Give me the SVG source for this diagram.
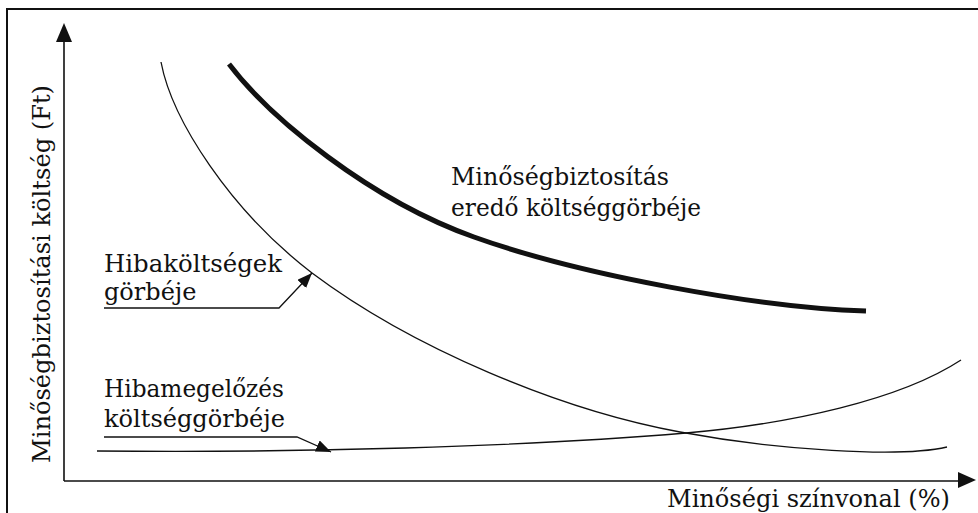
<svg xmlns="http://www.w3.org/2000/svg" width="978" height="513" viewBox="0 0 978 513">
<style>
.t{font-family:"DejaVu Serif","Liberation Serif",serif;font-size:24px;fill:#111}
.thin{fill:none;stroke:#111;stroke-width:1.3}
.ax{fill:none;stroke:#111;stroke-width:1.6}
</style>
<defs>
<marker id="ah" markerWidth="16" markerHeight="12" refX="15" refY="6" orient="auto" markerUnits="userSpaceOnUse">
<path d="M0,0 L15,6 L0,12 Z" fill="#111"/>
</marker>
</defs>
<rect width="978" height="513" fill="#fff"/>
<path d="M7,513 V9 H978" fill="none" stroke="#111" stroke-width="2"/>
<g id="axes">
<path class="ax" d="M64,481 V40 M64,481 H959"/>
<path d="M64,23 L56,42 L72,42 Z" fill="#111"/>
<path d="M976,480 L958,472 L958,488 Z" fill="#111"/>
<text class="t" transform="translate(50,463) rotate(-90)" textLength="378" lengthAdjust="spacingAndGlyphs">Minőségbiztosítási költség (Ft)</text>
<text class="t" x="667" y="507" textLength="283" lengthAdjust="spacingAndGlyphs">Minőségi színvonal (%)</text>
</g>
<g id="curve-total">
<path d="M229,64 C270,118 370,200 474,237 C580,275 760,308 866,311" fill="none" stroke="#111" stroke-width="5"/>
<text class="t" x="451" y="185" textLength="218" lengthAdjust="spacingAndGlyphs">Minőségbiztosítás</text>
<text class="t" x="451" y="216" textLength="250" lengthAdjust="spacingAndGlyphs">eredő költséggörbéje</text>
</g>
<g id="curve-failure">
<path class="thin" d="M161,62 C172,120 230,210 312,273 C412,348 560,410 680,432 C776,450 900,458 947,447"/>
<text class="t" x="104" y="272" textLength="178" lengthAdjust="spacingAndGlyphs">Hibaköltségek</text>
<text class="t" x="104" y="300">görbéje</text>
</g>
<g id="curve-prevention">
<path class="thin" d="M97,451 C300,453 520,447 686,433 C790,424 900,400 961,360"/>
<text class="t" x="104" y="397" textLength="180" lengthAdjust="spacingAndGlyphs">Hibamegelőzés</text>
<text class="t" x="104" y="427" textLength="181" lengthAdjust="spacingAndGlyphs">költséggörbéje</text>
</g>
<g id="connectors">
<polyline class="thin" points="104,308 279,308 312,273" marker-end="url(#ah)"/>
<polyline class="thin" points="104,437 297,437 331,452" marker-end="url(#ah)"/>
</g>
</svg>
